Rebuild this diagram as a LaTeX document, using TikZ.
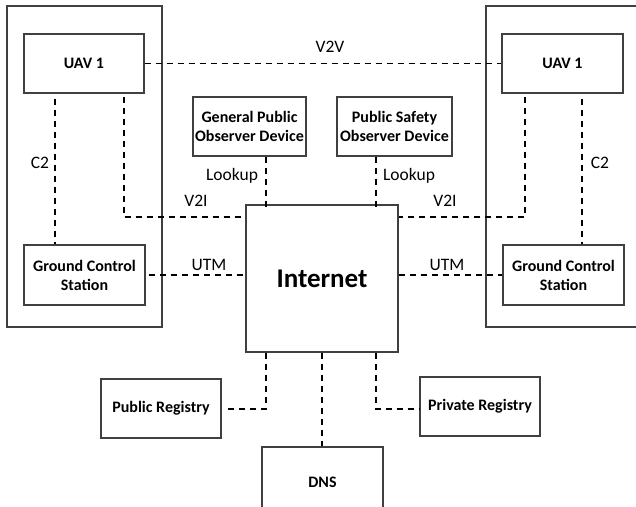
\documentclass[tikz,border=0pt]{standalone}
\usepackage{fontspec}
\setmainfont{Carlito}
\begin{document}
\begin{tikzpicture}[x=1pt,y=-1pt,
  box/.style={draw=black!75,line width=1.2pt,rectangle,inner sep=0pt,align=center,font=\bfseries\fontsize{16}{19}\selectfont},
  frame/.style={draw=black!75,line width=1.2pt},
  link/.style={draw=black,line width=1.8pt,dash pattern=on 6.5pt off 4.5pt},
  lbl/.style={inner sep=0pt,font=\fontsize{17.5}{20}\selectfont}]
\useasboundingbox (0,0) rectangle (636,506);

% station frames
\draw[frame] (7,6) rectangle (162,327);
\draw[frame] (486,6) rectangle (640,327);

% nodes
\node[box,minimum width=120pt,minimum height=59pt] (uavL) at (84,63.5) {UAV 1};
\node[box,minimum width=121pt,minimum height=59pt] (uavR) at (562.5,63.5) {UAV 1};
\node[box,minimum width=121pt,minimum height=60pt] (gcsL) at (84.5,275) {Ground Control\\Station};
\node[box,minimum width=121pt,minimum height=60pt] (gcsR) at (563.5,275) {Ground Control\\Station};
\node[box,minimum width=113pt,minimum height=59pt] (gpod) at (249.5,126.5) {General Public\\Observer Device};
\node[box,minimum width=115pt,minimum height=59pt] (psod) at (394.5,126.5) {Public Safety\\Observer Device};
\node[box,minimum width=152pt,minimum height=147pt,font=\bfseries\fontsize{27}{32}\selectfont] (inet) at (322,278.5) {Internet};
\node[box,minimum width=120pt,minimum height=59pt] (preg) at (161,408.5) {Public Registry};
\node[box,minimum width=120pt,minimum height=59pt] (vreg) at (480,406.5) {Private Registry};
\node[box,minimum width=121pt,minimum height=70pt] (dns) at (322.5,482) {DNS};

% x positions of the vertical links
\coordinate (c2l) at (55,0);
\coordinate (v2il) at (124,0);
\coordinate (lkl) at (266,0);
\coordinate (lkr) at (376,0);
\coordinate (v2ir) at (525,0);
\coordinate (c2r) at (582,0);
\coordinate (bl) at (266,0);
\coordinate (bm) at (322,0);
\coordinate (br) at (376,0);
\coordinate (v2iy) at (0,217);
\coordinate (regy) at (0,409);

% links
\draw[link] (uavL.east) -- (uavR.west);
\draw[link] ([yshift=-5pt]uavL.south -| c2l) -- (gcsL.north -| c2l);
\draw[link] ([yshift=-5pt]uavR.south -| c2r) -- (gcsR.north -| c2r);
\draw[link] ([yshift=-3pt]uavL.south -| v2il) |- (inet.west |- v2iy);
\draw[link] ([yshift=-3pt]uavR.south -| v2ir) |- (inet.east |- v2iy);
\draw[link] (gpod.south -| lkl) -- ([yshift=-5pt]inet.north -| lkl);
\draw[link] (psod.south -| lkr) -- ([yshift=-5pt]inet.north -| lkr);
\draw[link] ([xshift=3pt]gcsL.east) -- (inet.west |- gcsL.east);
\draw[link] (inet.east |- gcsR.west) -- (gcsR.west);
\draw[link] (inet.south -| bl) |- ([xshift=2pt]preg.east |- regy);
\draw[link] (inet.south -| br) |- (vreg.west |- regy);
\draw[link] (inet.south -| bm) -- (dns.north -| bm);

% link labels
\node[lbl] at (330,47) {V2V};
\node[lbl] at (40,163) {C2};
\node[lbl] at (600,163) {C2};
\node[lbl] at (232,176) {Lookup};
\node[lbl] at (409,176) {Lookup};
\node[lbl] at (196,201) {V2I};
\node[lbl] at (445,201) {V2I};
\node[lbl] at (209,265) {UTM};
\node[lbl] at (447,265) {UTM};
\end{tikzpicture}
\end{document}
